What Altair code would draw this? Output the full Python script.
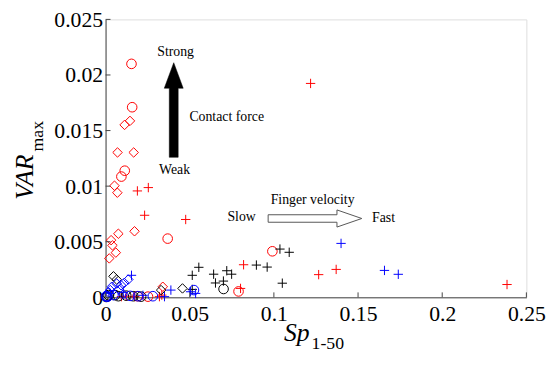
import altair as alt
import pandas as pd

# ---- data ----
red_circle_x = [0.0154, 0.0158, 0.0114, 0.0094, 0.0369, 0.0991, 0.0790, 0.0252, 0.0190]
red_circle_y = [0.0210, 0.0171, 0.01139, 0.01086, 0.00528, 0.00414, 0.00053, 0.00006, 0.0001]
red_diamond_x = [0.0113, 0.0145, 0.0071, 0.0167, 0.0053, 0.0070, 0.0172, 0.0076, 0.0033, 0.0041, 0.0061, 0.0022, 0.0340]
red_diamond_y = [0.01551, 0.01587, 0.01303, 0.01303, 0.01004, 0.00941, 0.00594, 0.00572, 0.00514, 0.00467, 0.00402, 0.00350, 0.00095]
red_plus_x = [0.1218, 0.0189, 0.0254, 0.0232, 0.0476, 0.0820, 0.1266, 0.1370, 0.2385, 0.0802, 0.0094, 0.0174, 0.0320, 0.0334, 0.0123]
red_plus_y = [0.01924, 0.00957, 0.00987, 0.00738, 0.00700, 0.00293, 0.00204, 0.00251, 0.00115, 0.00080, 0.00006, 0.00006, 0.00006, 0.0002, 0.0001]

black_plus_x = [0.0554, 0.0515, 0.0642, 0.0720, 0.0749, 0.0653, 0.0700, 0.0896, 0.0960, 0.1036, 0.1091, 0.1050, 0.0515]
black_plus_y = [0.0027, 0.00198, 0.00208, 0.00239, 0.00208, 0.00129, 0.00146, 0.0029, 0.00272, 0.00434, 0.00405, 0.00127, 0.00071]
black_circle_x = [0.0701, 0.0018, 0.0057, 0.0123, 0.0211, 0.0076, 0.0164, 0.0010, 0.0004]
black_circle_y = [0.00075, 0.0002, 0.0002, 0.00015, 0.00006, 0.0001, 0.0001, 0.0001, 0.00003]
black_diamond_x = [0.0047, 0.0066, 0.0330, 0.0457, 0.0006]
black_diamond_y = [0.00189, 0.0016, 0.00065, 0.0008, 0.0002]

blue_plus_x = [0.1399, 0.1657, 0.1739, 0.0154, 0.0388, 0.0505, 0.0535, 0.0350, 0.0029, 0.0105, 0.0222]
blue_plus_y = [0.00485, 0.00242, 0.00207, 0.00198, 0.00065, 0.0005, 0.00035, 0.00006, 0.00035, 0.00044, 0.00018]
blue_diamond_x = [0.0135, 0.0111, 0.0092, 0.0066, 0.0037, 0.0028, 0.0080, 0.0018, 0.0105]
blue_diamond_y = [0.0016, 0.0013, 0.00109, 0.00124, 0.00095, 0.00065, 0.00071, 0.00044, 0.00027]
blue_circle_x = [0.0525, 0.0006, 0.0047, 0.0146, 0.0193, 0.0281, 0.0012, 0.0002]
blue_circle_y = [0.00065, 0.0001, 0.0002, 0.00013, 0.0001, 0.0001, 0.00005, 0.00008]

x_ticks = [0, 0.05, 0.1, 0.15, 0.2, 0.25]
y_ticks = [0, 0.005, 0.01, 0.015, 0.02, 0.025]

# annotation texts and their anchor positions (data coords)
note_text = ["Strong", "Weak", "Contact force", "Finger velocity", "Slow", "Fast"]
note_x = [0.0416, 0.0410, 0.0498, 0.1230, 0.0808, 0.1651]
note_y = [0.02207, 0.01144, 0.01622, 0.00878, 0.00718, 0.00709]
note_align = ["center", "center", "left", "center", "center", "center"]

# arrows: (x, y) centres in data coords
up_arrow = {"x": [0.0405], "y": [0.01685]}
right_arrow = {"x": [0.1244], "y": [0.00709]}

# ---- build table ----
series = [
    ("red", "circle", red_circle_x, red_circle_y),
    ("red", "diamond", red_diamond_x, red_diamond_y),
    ("red", "plus", red_plus_x, red_plus_y),
    ("black", "circle", black_circle_x, black_circle_y),
    ("black", "diamond", black_diamond_x, black_diamond_y),
    ("black", "plus", black_plus_x, black_plus_y),
    ("blue", "circle", blue_circle_x, blue_circle_y),
    ("blue", "diamond", blue_diamond_x, blue_diamond_y),
    ("blue", "plus", blue_plus_x, blue_plus_y),
]
rows = []
for c, s, xs, ys in series:
    for xv, yv in zip(xs, ys):
        rows.append({"x": xv, "y": yv, "c": c, "s": s})
df = pd.DataFrame(rows)

FONT = "Liberation Serif"
W, H = 427, 282
xs_ = alt.Scale(domain=[0, 0.25], nice=False, zero=False)
ys_ = alt.Scale(domain=[0, 0.025], nice=False, zero=False)

AX = alt.Axis(values=x_ticks, format="~g", title=None, grid=False, ticks=False,
              labelFont=FONT, labelFontSize=22, labelColor="black", labelPadding=7,
              domainColor="#444", labelFlush=False, labelOverlap=False)
AY = alt.Axis(values=y_ticks, format="~g", title=None, grid=False, ticks=False,
              labelFont=FONT, labelFontSize=22, labelColor="black", labelPadding=3,
              domainColor="#444", labelFlush=False, labelOverlap=False)

PLUS = "M -1 0 L 1 0 M 0 -1 L 0 1"

points = alt.Chart(df).mark_point(filled=False, strokeWidth=1, opacity=1).encode(
    x=alt.X("x:Q", scale=xs_, axis=AX),
    y=alt.Y("y:Q", scale=ys_, axis=AY),
    color=alt.Color("c:N", scale=alt.Scale(domain=["red", "black", "blue"],
                                           range=["#ff0000", "#000000", "#0000ff"]), legend=None),
    shape=alt.Shape("s:N", scale=alt.Scale(domain=["circle", "diamond", "plus"],
                                           range=["circle", "diamond", PLUS]), legend=None),
    size=alt.Size("s:N", scale=alt.Scale(domain=["circle", "diamond", "plus"],
                                         range=[95, 90, 110]), legend=None),
)

xt = alt.Chart(pd.DataFrame({"x": x_ticks})).mark_rule(color="#444", strokeWidth=1).encode(
    x=alt.X("x:Q", scale=xs_, axis=AX), y=alt.value(H), y2=alt.value(H - 5))
yt = alt.Chart(pd.DataFrame({"y": y_ticks})).mark_rule(color="#444", strokeWidth=1).encode(
    y=alt.Y("y:Q", scale=ys_, axis=AY), x=alt.value(0), x2=alt.value(5))

notes_df = pd.DataFrame({"t": note_text, "x": note_x, "y": note_y, "a": note_align})
notes_c = alt.Chart(notes_df[notes_df.a == "center"]).mark_text(
    font=FONT, fontSize=14, color="black", align="center", baseline="middle").encode(
    x=alt.X("x:Q", scale=xs_, axis=AX), y=alt.Y("y:Q", scale=ys_, axis=AY), text="t:N")
notes_l = alt.Chart(notes_df[notes_df.a == "left"]).mark_text(
    font=FONT, fontSize=14, color="black", align="left", baseline="middle").encode(
    x=alt.X("x:Q", scale=xs_, axis=AX), y=alt.Y("y:Q", scale=ys_, axis=AY), text="t:N")

UP = "M -0.094 1 L -0.094 -0.46 L -0.2 -0.46 L 0 -1 L 0.2 -0.46 L 0.094 -0.46 L 0.094 1 Z"
RIGHT = "M -1 -0.08 L 0.47 -0.08 L 0.47 -0.183 L 1 0 L 0.47 0.183 L 0.47 0.08 L -1 0.08 Z"

arrow_up = alt.Chart(pd.DataFrame(up_arrow)).mark_point(
    shape=UP, filled=True, fill="black", stroke="black", strokeWidth=0.5, size=96 * 96, opacity=1).encode(
    x=alt.X("x:Q", scale=xs_, axis=AX), y=alt.Y("y:Q", scale=ys_, axis=AY))
arrow_right = alt.Chart(pd.DataFrame(right_arrow)).mark_point(
    shape=RIGHT, filled=True, fill="white", stroke="#555", strokeWidth=1, size=95 * 95, opacity=1).encode(
    x=alt.X("x:Q", scale=xs_, axis=AX), y=alt.Y("y:Q", scale=ys_, axis=AY))

# axis titles (with subscripts)
ytitle_main = alt.Chart(pd.DataFrame({"t": ["VAR"]})).mark_text(
    font=FONT, fontSize=26, fontStyle="italic", angle=270, align="left", baseline="alphabetic",
    color="black").encode(text="t:N", x=alt.value(-74), y=alt.value(183))
ytitle_sub = alt.Chart(pd.DataFrame({"t": ["max"]})).mark_text(
    font=FONT, fontSize=18, angle=270, align="left", baseline="alphabetic",
    color="black").encode(text="t:N", x=alt.value(-63), y=alt.value(134))
xtitle_main = alt.Chart(pd.DataFrame({"t": ["Sp"]})).mark_text(
    font=FONT, fontSize=26, fontStyle="italic", align="right", baseline="alphabetic",
    color="black").encode(text="t:N", x=alt.value(207), y=alt.value(326))
xtitle_sub = alt.Chart(pd.DataFrame({"t": ["1-50"]})).mark_text(
    font=FONT, fontSize=18, align="left", baseline="alphabetic",
    color="black").encode(text="t:N", x=alt.value(209), y=alt.value(334))

chart = alt.layer(
    points, xt, yt, arrow_up, arrow_right, notes_c, notes_l,
    ytitle_main, ytitle_sub, xtitle_main, xtitle_sub,
).properties(
    width=W, height=H,
    autosize=alt.AutoSizeParams(type="none"),
    padding={"left": 99, "top": 9, "right": 26, "bottom": 58},
).configure_view(stroke=None).configure(background="white", font=FONT).configure_axis(
    labelFont=FONT, labelFontSize=22, labelColor="black")

chart.save("out.html", embed_options={"renderer": "svg", "actions": False})
